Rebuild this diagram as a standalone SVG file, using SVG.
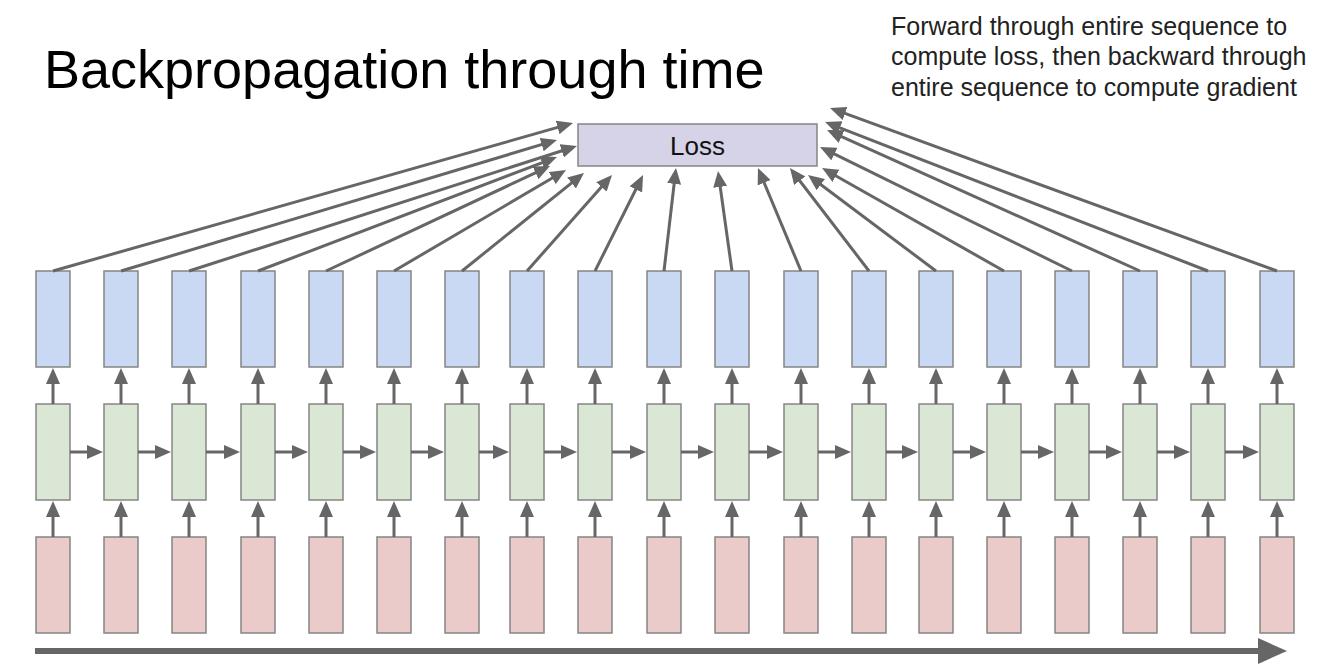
<svg xmlns="http://www.w3.org/2000/svg" width="1326" height="666" viewBox="0 0 1326 666">
<style>
.bg{fill:#ffffff}
.out{fill:#c9d9f3;stroke:#858585;stroke-width:1.5}
.hid{fill:#d9e7d4;stroke:#858585;stroke-width:1.5}
.inp{fill:#ebcaca;stroke:#858585;stroke-width:1.5}
.loss{fill:#d6d3e8;stroke:#858585;stroke-width:1.5}
.c{stroke:#666666;stroke-width:3;fill:none;marker-end:url(#ah)}
.t{font-family:"Liberation Sans",Arial,sans-serif}
</style>
<defs>
<marker id="ah" viewBox="0 0 16 14" refX="11" refY="7" markerWidth="16" markerHeight="14" markerUnits="userSpaceOnUse" orient="auto">
<path d="M0,0 L16,7 L0,14 z" fill="#666666"/>
</marker>
</defs>
<rect class="bg" x="0" y="0" width="1326" height="666"/>
<text class="t" x="44" y="88" font-size="54" fill="#000">Backpropagation through time</text>
<g class="t" font-size="25" fill="#222">
<text x="891" y="35">Forward through entire sequence to</text>
<text x="891" y="65">compute loss, then backward through</text>
<text x="891" y="96">entire sequence to compute gradient</text>
</g>
<g id="loss"><rect class="loss" x="578" y="124" width="239" height="42"/><text class="t" x="697.5" y="155" font-size="26" text-anchor="middle" fill="#111">Loss</text></g>
<g id="col0"><rect class="out" x="36" y="271" width="34" height="96"/><rect class="hid" x="36" y="404" width="34" height="96"/><rect class="inp" x="36" y="537" width="34" height="96"/></g>
<g id="col1"><rect class="out" x="104" y="271" width="34" height="96"/><rect class="hid" x="104" y="404" width="34" height="96"/><rect class="inp" x="104" y="537" width="34" height="96"/></g>
<g id="col2"><rect class="out" x="172" y="271" width="34" height="96"/><rect class="hid" x="172" y="404" width="34" height="96"/><rect class="inp" x="172" y="537" width="34" height="96"/></g>
<g id="col3"><rect class="out" x="241" y="271" width="34" height="96"/><rect class="hid" x="241" y="404" width="34" height="96"/><rect class="inp" x="241" y="537" width="34" height="96"/></g>
<g id="col4"><rect class="out" x="309" y="271" width="34" height="96"/><rect class="hid" x="309" y="404" width="34" height="96"/><rect class="inp" x="309" y="537" width="34" height="96"/></g>
<g id="col5"><rect class="out" x="377" y="271" width="34" height="96"/><rect class="hid" x="377" y="404" width="34" height="96"/><rect class="inp" x="377" y="537" width="34" height="96"/></g>
<g id="col6"><rect class="out" x="445" y="271" width="34" height="96"/><rect class="hid" x="445" y="404" width="34" height="96"/><rect class="inp" x="445" y="537" width="34" height="96"/></g>
<g id="col7"><rect class="out" x="510" y="271" width="34" height="96"/><rect class="hid" x="510" y="404" width="34" height="96"/><rect class="inp" x="510" y="537" width="34" height="96"/></g>
<g id="col8"><rect class="out" x="578" y="271" width="34" height="96"/><rect class="hid" x="578" y="404" width="34" height="96"/><rect class="inp" x="578" y="537" width="34" height="96"/></g>
<g id="col9"><rect class="out" x="647" y="271" width="34" height="96"/><rect class="hid" x="647" y="404" width="34" height="96"/><rect class="inp" x="647" y="537" width="34" height="96"/></g>
<g id="col10"><rect class="out" x="715" y="271" width="34" height="96"/><rect class="hid" x="715" y="404" width="34" height="96"/><rect class="inp" x="715" y="537" width="34" height="96"/></g>
<g id="col11"><rect class="out" x="784" y="271" width="34" height="96"/><rect class="hid" x="784" y="404" width="34" height="96"/><rect class="inp" x="784" y="537" width="34" height="96"/></g>
<g id="col12"><rect class="out" x="852" y="271" width="34" height="96"/><rect class="hid" x="852" y="404" width="34" height="96"/><rect class="inp" x="852" y="537" width="34" height="96"/></g>
<g id="col13"><rect class="out" x="919" y="271" width="34" height="96"/><rect class="hid" x="919" y="404" width="34" height="96"/><rect class="inp" x="919" y="537" width="34" height="96"/></g>
<g id="col14"><rect class="out" x="987" y="271" width="34" height="96"/><rect class="hid" x="987" y="404" width="34" height="96"/><rect class="inp" x="987" y="537" width="34" height="96"/></g>
<g id="col15"><rect class="out" x="1055" y="271" width="34" height="96"/><rect class="hid" x="1055" y="404" width="34" height="96"/><rect class="inp" x="1055" y="537" width="34" height="96"/></g>
<g id="col16"><rect class="out" x="1123" y="271" width="34" height="96"/><rect class="hid" x="1123" y="404" width="34" height="96"/><rect class="inp" x="1123" y="537" width="34" height="96"/></g>
<g id="col17"><rect class="out" x="1191" y="271" width="34" height="96"/><rect class="hid" x="1191" y="404" width="34" height="96"/><rect class="inp" x="1191" y="537" width="34" height="96"/></g>
<g id="col18"><rect class="out" x="1260" y="271" width="34" height="96"/><rect class="hid" x="1260" y="404" width="34" height="96"/><rect class="inp" x="1260" y="537" width="34" height="96"/></g>
<g id="connectors">
<line class="c" x1="53" y1="271" x2="568.2" y2="124.4"/>
<line class="c" x1="121" y1="271" x2="552.2" y2="141.4"/>
<line class="c" x1="189" y1="271" x2="572.2" y2="147.5"/>
<line class="c" x1="258" y1="271" x2="552.3" y2="158.8"/>
<line class="c" x1="326" y1="271" x2="545.5" y2="168.1"/>
<line class="c" x1="394" y1="271" x2="561.7" y2="172.5"/>
<line class="c" x1="462" y1="271" x2="580.1" y2="176.1"/>
<line class="c" x1="527" y1="271" x2="608.7" y2="178.7"/>
<line class="c" x1="595" y1="271" x2="640.8" y2="179.5"/>
<line class="c" x1="664" y1="271" x2="675.4" y2="173"/>
<line class="c" x1="732" y1="271" x2="718.7" y2="176"/>
<line class="c" x1="801" y1="271" x2="759.9" y2="172.6"/>
<line class="c" x1="869" y1="271" x2="793" y2="172"/>
<line class="c" x1="936" y1="271" x2="812" y2="178"/>
<line class="c" x1="1004" y1="271" x2="826.4" y2="170.5"/>
<line class="c" x1="1072" y1="271" x2="824.5" y2="149.2"/>
<line class="c" x1="1140" y1="271" x2="831.6" y2="132.1"/>
<line class="c" x1="1208" y1="271" x2="829.7" y2="123.8"/>
<line class="c" x1="1277" y1="271" x2="834.7" y2="109.7"/>
<g id="up-arrows">
<line class="c" x1="53" y1="404" x2="53" y2="373"/><line class="c" x1="53" y1="537" x2="53" y2="506"/>
<line class="c" x1="121" y1="404" x2="121" y2="373"/><line class="c" x1="121" y1="537" x2="121" y2="506"/>
<line class="c" x1="189" y1="404" x2="189" y2="373"/><line class="c" x1="189" y1="537" x2="189" y2="506"/>
<line class="c" x1="258" y1="404" x2="258" y2="373"/><line class="c" x1="258" y1="537" x2="258" y2="506"/>
<line class="c" x1="326" y1="404" x2="326" y2="373"/><line class="c" x1="326" y1="537" x2="326" y2="506"/>
<line class="c" x1="394" y1="404" x2="394" y2="373"/><line class="c" x1="394" y1="537" x2="394" y2="506"/>
<line class="c" x1="462" y1="404" x2="462" y2="373"/><line class="c" x1="462" y1="537" x2="462" y2="506"/>
<line class="c" x1="527" y1="404" x2="527" y2="373"/><line class="c" x1="527" y1="537" x2="527" y2="506"/>
<line class="c" x1="595" y1="404" x2="595" y2="373"/><line class="c" x1="595" y1="537" x2="595" y2="506"/>
<line class="c" x1="664" y1="404" x2="664" y2="373"/><line class="c" x1="664" y1="537" x2="664" y2="506"/>
<line class="c" x1="732" y1="404" x2="732" y2="373"/><line class="c" x1="732" y1="537" x2="732" y2="506"/>
<line class="c" x1="801" y1="404" x2="801" y2="373"/><line class="c" x1="801" y1="537" x2="801" y2="506"/>
<line class="c" x1="869" y1="404" x2="869" y2="373"/><line class="c" x1="869" y1="537" x2="869" y2="506"/>
<line class="c" x1="936" y1="404" x2="936" y2="373"/><line class="c" x1="936" y1="537" x2="936" y2="506"/>
<line class="c" x1="1004" y1="404" x2="1004" y2="373"/><line class="c" x1="1004" y1="537" x2="1004" y2="506"/>
<line class="c" x1="1072" y1="404" x2="1072" y2="373"/><line class="c" x1="1072" y1="537" x2="1072" y2="506"/>
<line class="c" x1="1140" y1="404" x2="1140" y2="373"/><line class="c" x1="1140" y1="537" x2="1140" y2="506"/>
<line class="c" x1="1208" y1="404" x2="1208" y2="373"/><line class="c" x1="1208" y1="537" x2="1208" y2="506"/>
<line class="c" x1="1277" y1="404" x2="1277" y2="373"/><line class="c" x1="1277" y1="537" x2="1277" y2="506"/>
</g>
<g id="recurrent">
<line class="c" x1="70" y1="452" x2="98" y2="452"/>
<line class="c" x1="138" y1="452" x2="166" y2="452"/>
<line class="c" x1="206" y1="452" x2="235" y2="452"/>
<line class="c" x1="275" y1="452" x2="303" y2="452"/>
<line class="c" x1="343" y1="452" x2="371" y2="452"/>
<line class="c" x1="411" y1="452" x2="439" y2="452"/>
<line class="c" x1="479" y1="452" x2="504" y2="452"/>
<line class="c" x1="544" y1="452" x2="572" y2="452"/>
<line class="c" x1="612" y1="452" x2="641" y2="452"/>
<line class="c" x1="681" y1="452" x2="709" y2="452"/>
<line class="c" x1="749" y1="452" x2="778" y2="452"/>
<line class="c" x1="818" y1="452" x2="846" y2="452"/>
<line class="c" x1="886" y1="452" x2="913" y2="452"/>
<line class="c" x1="953" y1="452" x2="981" y2="452"/>
<line class="c" x1="1021" y1="452" x2="1049" y2="452"/>
<line class="c" x1="1089" y1="452" x2="1117" y2="452"/>
<line class="c" x1="1157" y1="452" x2="1185" y2="452"/>
<line class="c" x1="1225" y1="452" x2="1254" y2="452"/>
</g>
<g id="time-axis">
<line x1="35" y1="651" x2="1262" y2="651" stroke="#666666" stroke-width="6"/>
<polygon points="1258,638 1287,651 1258,664" fill="#666666"/>
</g>
</g>
</svg>
